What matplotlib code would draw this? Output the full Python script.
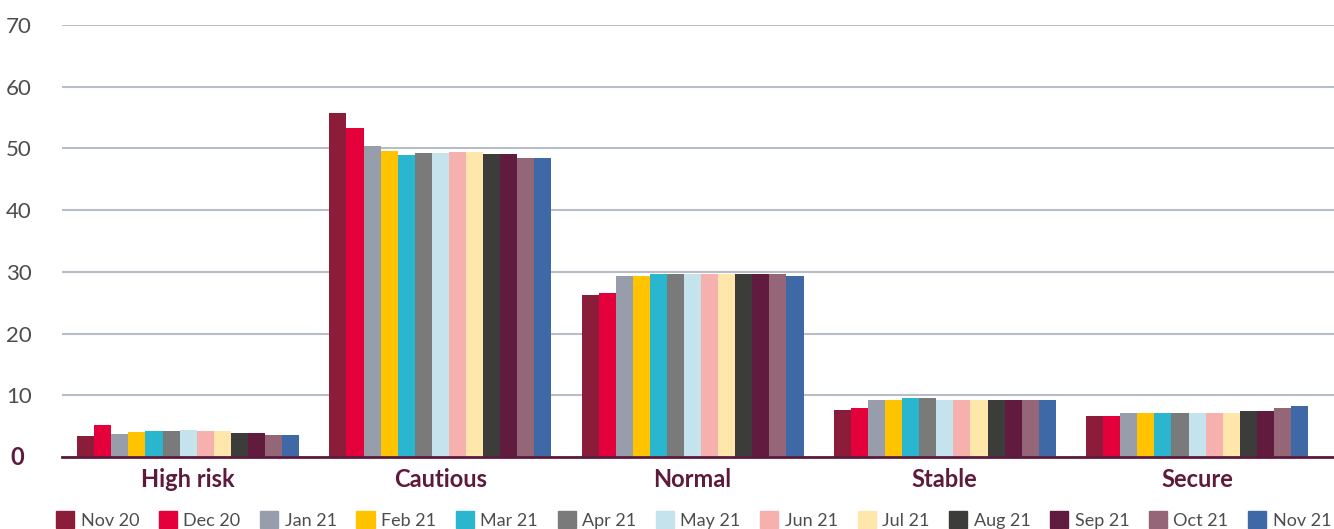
import numpy as np
import matplotlib.pyplot as plt
from matplotlib.patches import Patch

categories = ['High risk', 'Cautious', 'Normal', 'Stable', 'Secure']
months = ['Nov 20', 'Dec 20', 'Jan 21', 'Feb 21', 'Mar 21', 'Apr 21', 'May 21',
          'Jun 21', 'Jul 21', 'Aug 21', 'Sep 21', 'Oct 21', 'Nov 21']

# one list per month: High risk, Cautious, Normal, Stable, Secure
nov20 = [3.4, 55.8, 26.3, 7.7, 6.7]
dec20 = [5.2, 53.3, 26.5, 8.0, 6.7]
jan21 = [3.8, 50.4, 29.3, 9.3, 7.2]
feb21 = [4.1, 49.6, 29.4, 9.3, 7.2]
mar21 = [4.2, 48.9, 29.7, 9.5, 7.2]
apr21 = [4.2, 49.3, 29.7, 9.5, 7.2]
may21 = [4.4, 49.3, 29.7, 9.3, 7.2]
jun21 = [4.2, 49.4, 29.7, 9.3, 7.2]
jul21 = [4.2, 49.4, 29.7, 9.3, 7.2]
aug21 = [3.9, 49.1, 29.7, 9.3, 7.5]
sep21 = [3.9, 49.1, 29.6, 9.2, 7.5]
oct21 = [3.6, 48.5, 29.7, 9.2, 7.9]
nov21 = [3.6, 48.5, 29.4, 9.2, 8.2]

series = [nov20, dec20, jan21, feb21, mar21, apr21, may21,
          jun21, jul21, aug21, sep21, oct21, nov21]

colors = ['#8B1D3B', '#E4003B', '#979DAA', '#FFC300', '#29B6CE', '#7A7A7A', '#C4E3EC',
          '#F6B1AE', '#FFE6AA', '#3C3C3A', '#601B3F', '#956578', '#3F68A6']

maroon = '#5E1A3C'
grey_txt = '#4D4D4D'

plt.rcParams['font.family'] = ['Lato', 'DejaVu Sans']

fig = plt.figure(figsize=(13.34, 5.29), dpi=100)
ax = fig.add_axes([0.0465, 0.136, 0.9535, 0.817])

x = np.arange(len(categories))
n = len(series)
group_w = 0.88
bw = group_w / n
for i, (vals, c) in enumerate(zip(series, colors)):
    ax.bar(x - group_w / 2 + bw * (i + 0.5), vals, width=bw, color=c,
           label=months[i], zorder=3)

ax.set_ylim(0, 70)
ax.set_xlim(-0.5, 4.543)
ax.set_yticks(range(0, 80, 10))
ax.set_yticklabels([''] + [str(v) for v in range(10, 80, 10)])
ax.tick_params(axis='y', length=0, pad=22, labelsize=16, labelcolor=grey_txt)
ax.text(-0.03, 0, '0', transform=ax.get_yaxis_transform(), ha='right', va='center',
        fontsize=17, fontweight='bold', color=maroon)
ax.grid(axis='y', color='#B9BDC8', linewidth=1.5, zorder=0)
for s in ['top', 'right', 'left']:
    ax.spines[s].set_visible(False)
ax.spines['bottom'].set_color(maroon)
ax.spines['bottom'].set_linewidth(2)
ax.spines['bottom'].set_zorder(4)

ax.set_xticks(x)
ax.set_xticklabels(categories, fontsize=17, fontweight='bold', color=maroon)
ax.tick_params(axis='x', length=0, pad=8)

handles = [Patch(color=c, label=m) for c, m in zip(colors, months)]
fig.legend(handles=handles, loc='lower center', ncol=13, frameon=False,
           bbox_to_anchor=(0.52, -0.03), fontsize=13, handlelength=1.0,
           handleheight=1.0, handletextpad=0.35, columnspacing=1.1,
           labelcolor=grey_txt)

fig.savefig('out.png', dpi=100)
